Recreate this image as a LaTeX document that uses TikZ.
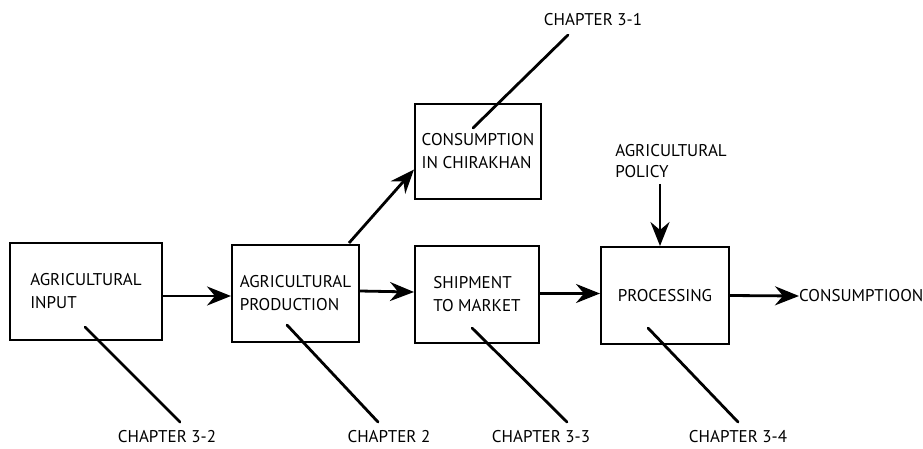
\documentclass[tikz,border=0pt]{standalone}
\usepackage{fontspec}
\setmainfont{PT Sans}
\usetikzlibrary{arrows.meta,calc}
\begin{document}
\begin{tikzpicture}[x=1pt,y=-1pt,
  lbl/.style={font=\fontsize{17}{21}\selectfont, inner sep=0pt},
  box/.style={draw, line width=2pt, inner sep=0pt, align=left,
    font=\fontsize{17}{23}\selectfont},
  arr/.style={line width=2.8pt, -{Stealth[length=24pt,width=19pt,inset=8pt]}},
  chline/.style={line width=2.8pt, line cap=round}]
\useasboundingbox (0,0) rectangle (923,448);
% boxes
\node[box, minimum width=152pt, minimum height=97pt] (in) at (86,291.5) {AGRICULTURAL\\INPUT};
\node[box, minimum width=127pt, minimum height=97pt] (prod) at (295.5,293.5) {AGRICULTURAL\\PRODUCTION};
\node[box, minimum width=126pt, minimum height=95pt] (cons) at (478,151.5) {CONSUMPTION\\IN CHIRAKHAN};
\node[box, minimum width=124pt, minimum height=97pt] (ship) at (477,294.5) {SHIPMENT\\TO MARKET};
\node[box, minimum width=128pt, minimum height=97pt] (proc) at (665,295.5) {PROCESSING};
% free labels
\node[lbl, align=left] (policy) at (671,161) {AGRICULTURAL\\POLICY};
\node[lbl, anchor=west] (final) at (799,296) {CONSUMPTIOON};
\node[lbl] (ch31) at (593,20) {CHAPTER 3-1};
\node[lbl] (ch32) at (167,437) {CHAPTER 3-2};
\node[lbl] (ch2) at (389,437) {CHAPTER 2};
\node[lbl] (ch33) at (541,437) {CHAPTER 3-3};
\node[lbl] (ch34) at (738,437) {CHAPTER 3-4};
% flow arrows
\draw[arr] ($(in.east)+(0,4.5)$) -- ($(prod.west)+(0,2.5)$);
\draw[arr] ($(prod.east)+(0,-2.5)$) -- ($(ship.west)+(0,-2.5)$);
\draw[arr] ($(ship.east)+(0,-1)$) -- ($(proc.west)+(0,-2)$);
\draw[arr] (proc.east) -- (final.west);
\draw[arr] ($(policy.south)+(-11,6)$) -- ($(proc.north)+(-5,0)$);
\draw[arr] ($(prod.north east)+(-11,-1)$) -- ($(cons.west)+(0,18)$);
% chapter lines
\coordinate (a31) at (473,128); \coordinate (b31) at (568,35);
\coordinate (a32) at (85,327);  \coordinate (b32) at (180,422);
\coordinate (a2) at (287,325);  \coordinate (b2) at (378,422);
\coordinate (a33) at (472,328); \coordinate (b33) at (567,422);
\coordinate (a34) at (648,328); \coordinate (b34) at (738,422);
\draw[chline] (a31) -- (b31);
\draw[chline] (a32) -- (b32);
\draw[chline] (a2) -- (b2);
\draw[chline] (a33) -- (b33);
\draw[chline] (a34) -- (b34);
\end{tikzpicture}
\end{document}
